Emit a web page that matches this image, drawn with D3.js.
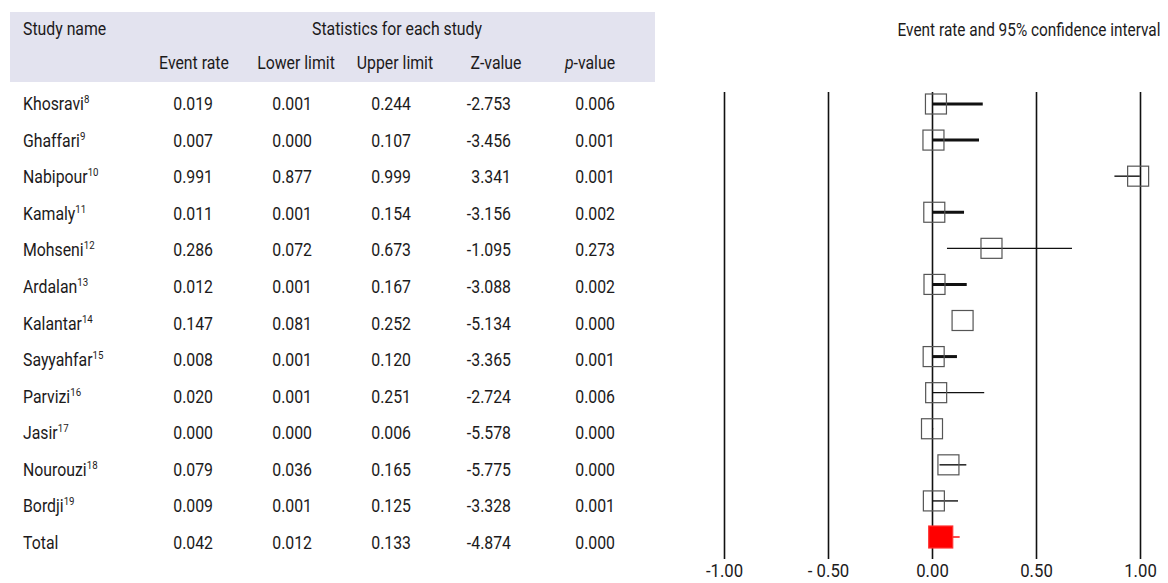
<!DOCTYPE html>
<html>
<head>
<meta charset="utf-8">
<script src="https://cdn.jsdelivr.net/npm/d3@7"></script>
<style>
  body { margin: 0; background: #fff; }
  svg text { font-family: Roboto, "Noto Sans", sans-serif; fill: #1c1a1b; }
</style>
</head>
<body>
<svg id="chart" width="1168" height="583"></svg>
<script>
// table values, as printed
const studies = ["Khosravi", "Ghaffari", "Nabipour", "Kamaly", "Mohseni", "Ardalan", "Kalantar",
  "Sayyahfar", "Parvizi", "Jasir", "Nourouzi", "Bordji", "Total"];
const refs = ["8", "9", "10", "11", "12", "13", "14", "15", "16", "17", "18", "19", ""];
const eventRate = [0.019, 0.007, 0.991, 0.011, 0.286, 0.012, 0.147, 0.008, 0.020, 0.000, 0.079, 0.009, 0.042];
const lowerLimit = [0.001, 0.000, 0.877, 0.001, 0.072, 0.001, 0.081, 0.001, 0.001, 0.000, 0.036, 0.001, 0.012];
const upperLimit = [0.244, 0.107, 0.999, 0.154, 0.673, 0.167, 0.252, 0.120, 0.251, 0.006, 0.165, 0.125, 0.133];
const zValue = [-2.753, -3.456, 3.341, -3.156, -1.095, -3.088, -5.134, -3.365, -2.724, -5.578, -5.775, -3.328, -4.874];
const pValue = [0.006, 0.001, 0.001, 0.002, 0.273, 0.002, 0.000, 0.001, 0.006, 0.000, 0.000, 0.001, 0.000];

// whiskers as they appear in the plot (Ghaffari drawn longer, Kalantar has none)
const plotLow = [0.001, 0.000, 0.877, 0.001, 0.072, 0.001, null, 0.001, 0.001, 0.000, 0.036, 0.001, 0.012];
const plotHigh = [0.244, 0.226, 0.999, 0.154, 0.673, 0.167, null, 0.120, 0.251, 0.006, 0.165, 0.125, 0.133];

const xTicks = [-1, -0.5, 0, 0.5, 1];
const thickRows = ["Khosravi", "Ghaffari", "Kamaly", "Ardalan", "Sayyahfar"];

const svg = d3.select("#chart");
const SQ = 0.88; // horizontal squeeze to mimic a condensed face

// text placed at (x, y) and squeezed horizontally
function addText(parent, x, y, str, size, anchor) {
  return parent.append("text")
    .attr("transform", "translate(" + x + "," + y + ") scale(" + SQ + ",1)")
    .attr("text-anchor", anchor || "start")
    .attr("font-size", size + "px")
    .text(str);
}

// ---------- table ----------
svg.append("rect")
  .attr("x", 10).attr("y", 12)
  .attr("width", 645).attr("height", 70)
  .attr("fill", "#e3e3ef");

addText(svg, 23, 35, "Study name", 18);
addText(svg, 397, 35, "Statistics for each study", 18, "middle");

const cols = [
  { head: "Event rate", vals: eventRate, hx: 194, rx: 213 },
  { head: "Lower limit", vals: lowerLimit, hx: 296, rx: 312 },
  { head: "Upper limit", vals: upperLimit, hx: 395, rx: 411 },
  { head: "Z-value", vals: zValue, hx: 496, rx: 511 },
  { head: "p-value", vals: pValue, hx: 590, rx: 615 }
];

cols.forEach(function (c) {
  if (c.head == "p-value") {
    const t = addText(svg, c.hx, 69, "", 18, "middle");
    t.append("tspan").attr("font-style", "italic").text("p");
    t.append("tspan").text("-value");
  } else {
    addText(svg, c.hx, 69, c.head, 18, "middle");
  }
});

const rowY = d3.scalePoint().domain(studies).range([110, 549]);

const rows = svg.append("g").selectAll("g")
  .data(studies)
  .enter()
  .append("g")
  .attr("transform", function (d) {
    return "translate(0," + rowY(d) + ")";
  });

const names = rows.append("text")
  .attr("transform", "translate(23,0) scale(" + SQ + ",1)")
  .attr("font-size", "18px");
names.append("tspan").text((d) => d);
names.append("tspan")
  .attr("font-size", "11px")
  .attr("dy", "-7")
  .text((d, i) => refs[i]);

cols.forEach(function (c) {
  rows.append("text")
    .attr("transform", "translate(" + c.rx + ",0) scale(" + SQ + ",1)")
    .attr("text-anchor", "end")
    .attr("font-size", "18px")
    .text((d, i) => c.vals[i].toFixed(3));
});

// ---------- forest plot ----------
addText(svg, 1029, 36, "Event rate and 95% confidence interval", 17.5, "middle");

const x = d3.scaleLinear().domain([-1, 1]).range([724, 1140]);
const yTop = 92, yBottom = 559;
const py = d3.scalePoint().domain(studies).range([104, 537]);

const axis = svg.append("g")
  .attr("transform", "translate(0," + yBottom + ")")
  .call(d3.axisBottom(x)
    .tickValues(xTicks)
    .tickSizeInner(-(yBottom - yTop))
    .tickSizeOuter(0)
    .tickPadding(5)
    .tickFormat((d) => (d == -0.5 ? "- 0.50" : d.toFixed(2))));
axis.select(".domain").remove();
axis.selectAll(".tick line").attr("stroke", "#111").attr("stroke-width", 1.6);
axis.selectAll(".tick text")
  .attr("font-size", "19px")
  .attr("font-family", "Roboto, sans-serif")
  .attr("fill", "#1c1a1b")
  .attr("transform", "scale(" + SQ + ",1)");

const marks = svg.append("g");
const isTotal = (d) => d == "Total";

// whiskers
marks.selectAll("line")
  .data(studies.filter((d, i) => plotLow[i] != null))
  .enter()
  .append("line")
  .attr("x1", (d) => x(plotLow[studies.indexOf(d)]))
  .attr("x2", (d) => x(plotHigh[studies.indexOf(d)]))
  .attr("y1", (d) => py(d))
  .attr("y2", (d) => py(d))
  .attr("stroke", (d) => (isTotal(d) ? "#ff0000" : "#111"))
  .attr("stroke-width", (d) => (thickRows.includes(d) ? 3 : 1.4));

// boxes
const bw = 21, bh = 20;
marks.selectAll("rect")
  .data(studies)
  .enter()
  .append("rect")
  .attr("x", (d, i) => x(eventRate[i]) - (isTotal(d) ? 12 : bw / 2))
  .attr("y", (d) => py(d) - (isTotal(d) ? 11 : bh / 2))
  .attr("width", (d) => (isTotal(d) ? 24 : bw))
  .attr("height", (d) => (isTotal(d) ? 22 : bh))
  .attr("fill", (d) => (isTotal(d) ? "#ff0000" : "none"))
  .attr("stroke", (d) => (isTotal(d) ? "#ff3030" : "#555"))
  .attr("stroke-width", 1.2);
</script>
</body>
</html>
